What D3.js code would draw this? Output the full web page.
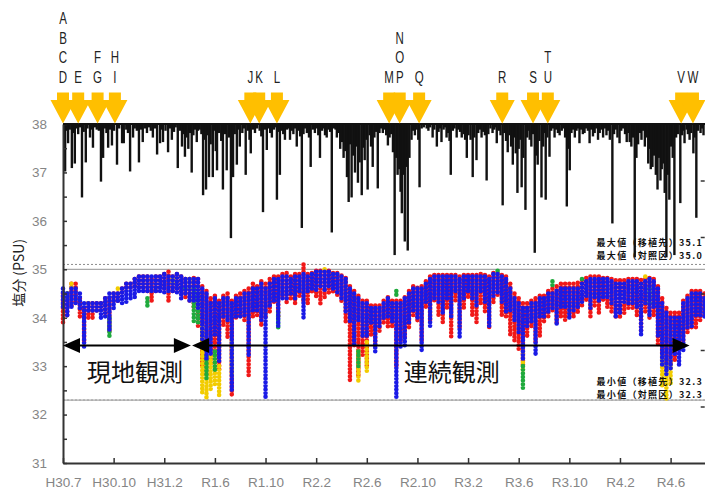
<!DOCTYPE html>
<html>
<head>
<meta charset="utf-8">
<script src="https://cdn.jsdelivr.net/npm/d3@7"></script>
<style>
  body { margin: 0; background: #fff; }
  svg { display: block; }
</style>
</head>
<body>
<svg id="chart" width="705" height="491"></svg>
<script>
// ---- time frame and axis labels ----
const startDate = "2018-07-01";
const endDate = "2022-08-31";
const tickDates = ["2018-07-01","2018-10-29","2019-02-26","2019-06-26","2019-10-24","2020-02-21",
  "2020-06-20","2020-10-18","2021-02-15","2021-06-15","2021-10-13","2022-02-10","2022-06-10"];
const tickLabels = ["H30.7","H30.10","H31.2","R1.6","R1.10","R2.2","R2.6","R2.10","R3.2","R3.6","R3.10","R4.2","R4.6"];
const salinityTicks = [31, 32, 33, 34, 35, 36, 37, 38];
const salinityMinorTicks = [31.5, 32.5, 33.5, 34.5, 35.5, 36.5, 37.5];
const rainTicks = [50, 100, 150, 200, 250];

// ---- survey sites (letters stacked over one arrow share a date) ----
const siteGroups = ["ABCD","E","FG","HI","J","K","L","M","NOP","Q","R","S","TU","V","W"];
const siteDates = ["2018-07-01","2018-08-06","2018-09-21","2018-11-01","2019-09-18","2019-10-09","2019-11-20",
  "2020-08-12","2020-09-06","2020-10-22","2021-05-07","2021-07-19","2021-08-23","2022-07-05","2022-08-02"];

// ---- observation periods ----
const periodNames = ["現地観測", "連続観測"];
const periodStarts = ["2018-07-01", "2019-05-03"];
const periodEnds = ["2019-04-30", "2022-07-25"];

// ---- max / min reference values ----
const extremeLabels = ["最大値（移植先）", "最大値（対照区）", "最小値（移植先）", "最小値（対照区）"];
const extremeValues = [35.1, 35.0, 32.3, 32.3];

// ---- daily rainfall, mm: [days since 2018-07-01, mm] ----
const rainfall = [[5,42],[9,6],[12,17],[16,5],[21,39],[25,8],[28,35],[32,4],[36,9],[40,3],[45,65],[49,7],[54,34],[58,4],[64,12],[67,5],[71,21],[76,3],[80,5],[85,6],[90,51],[95,30],[100,4],[103,8],[107,21],[111,5],[116,19],[121,6],[128,36],[133,4],[140,17],[144,17],[150,5],[154,8],[159,42],[166,12],[170,4],[175,6],[180,34],[185,5],[189,16],[194,4],[199,8],[204,3],[208,6],[213,12],[218,4],[223,27],[230,17],[233,5],[237,16],[243,6],[249,25],[254,4],[258,14],[263,7],[267,3],[272,39],[277,6],[282,20],[286,9],[289,29],[293,12],[297,22],[301,8],[305,43],[309,10],[313,5],[317,16],[320,6],[324,5],[328,9],[332,63],[336,14],[339,58],[343,10],[346,47],[350,18],[355,47],[359,6],[362,24],[365,41],[370,8],[375,15],[379,58],[384,9],[388,41],[393,12],[398,101],[403,47],[407,9],[412,36],[416,5],[419,20],[425,8],[429,4],[433,45],[438,6],[442,14],[445,26],[450,5],[455,8],[460,4],[466,6],[470,11],[474,78],[479,5],[483,23],[488,4],[491,8],[495,12],[500,5],[503,3],[507,67],[511,7],[514,45],[519,6],[522,9],[526,14],[531,5],[534,4],[538,14],[542,6],[546,9],[550,4],[554,20],[558,6],[562,11],[566,92],[570,9],[574,4],[578,8],[583,12],[587,38],[592,5],[597,8],[602,4],[605,10],[609,30],[614,6],[618,4],[621,10],[625,12],[629,5],[633,7],[637,96],[642,4],[646,5],[649,12],[654,8],[657,22],[661,16],[665,30],[669,24],[673,47],[677,69],[680,18],[684,65],[688,28],[692,43],[695,20],[699,52],[703,34],[708,63],[712,21],[715,32],[719,14],[722,58],[727,10],[730,20],[734,38],[738,12],[742,7],[746,57],[750,8],[754,4],[758,8],[763,5],[766,10],[770,19],[774,12],[778,9],[782,25],[786,116],[790,30],[793,45],[797,40],[800,60],[803,79],[806,45],[810,104],[813,38],[817,112],[821,30],[826,14],[830,6],[834,10],[838,5],[842,14],[845,56],[850,4],[855,3],[862,4],[866,6],[870,3],[876,12],[880,5],[886,20],[890,7],[894,4],[897,16],[902,5],[905,3],[909,12],[913,8],[916,15],[919,45],[924,6],[928,4],[933,12],[937,5],[941,7],[945,12],[950,9],[953,14],[957,30],[961,10],[966,14],[971,47],[975,12],[980,32],[984,8],[988,5],[992,12],[996,7],[1000,10],[1004,50],[1008,9],[1013,4],[1018,8],[1022,5],[1025,3],[1028,17],[1033,6],[1037,10],[1042,72],[1046,8],[1050,15],[1054,25],[1058,10],[1062,20],[1066,36],[1070,12],[1073,26],[1077,61],[1080,22],[1084,14],[1087,56],[1091,30],[1096,76],[1100,12],[1103,6],[1106,14],[1110,20],[1114,9],[1118,114],[1121,28],[1125,36],[1129,15],[1134,65],[1138,20],[1141,8],[1144,67],[1148,12],[1153,29],[1157,6],[1161,4],[1165,12],[1169,5],[1173,8],[1177,10],[1182,6],[1186,4],[1190,12],[1194,73],[1197,22],[1201,41],[1205,8],[1209,5],[1213,12],[1217,6],[1220,4],[1224,17],[1228,5],[1232,9],[1236,8],[1240,4],[1244,6],[1248,17],[1252,5],[1256,11],[1260,8],[1264,4],[1268,14],[1272,8],[1276,5],[1280,12],[1284,4],[1288,10],[1292,6],[1296,14],[1302,88],[1306,9],[1310,5],[1314,12],[1319,17],[1323,6],[1327,4],[1332,9],[1336,16],[1340,8],[1343,16],[1347,20],[1351,12],[1355,118],[1359,30],[1363,18],[1367,8],[1371,14],[1375,6],[1379,20],[1383,12],[1387,35],[1390,22],[1393,40],[1397,38],[1401,28],[1405,45],[1409,58],[1412,30],[1416,50],[1419,40],[1423,35],[1426,61],[1430,118],[1433,45],[1437,67],[1441,20],[1445,30],[1449,116],[1453,12],[1457,9],[1463,70],[1467,10],[1470,6],[1473,17],[1478,5],[1481,9],[1485,14],[1489,8],[1494,26],[1497,12],[1501,83],[1505,6],[1511,8],[1515,4],[1518,10]];

// ---- salinity (PSU), 10-day min/max per station: days since 2018-07-01 ----
const obsDays = [0,10,20,30,40,50,60,70,80,90,100,110,120,130,140,150,160,170,180,190,200,210,220,230,240,250,260,270,280,290,300,
  310,320,330,340,350,360,370,380,390,400,410,420,430,440,450,460,470,480,490,500,510,520,530,540,550,560,570,580,590,600,
  610,620,630,640,650,660,670,680,690,700,710,720,730,740,750,760,770,780,790,800,810,820,830,840,850,860,870,880,890,900,
  910,920,930,940,950,960,970,980,990,1000,1010,1020,1030,1040,1050,1060,1070,1080,1090,1100,1110,1120,1130,1140,1150,1160,
  1170,1180,1190,1200,1210,1220,1230,1240,1250,1260,1270,1280,1290,1300,1310,1320,1330,1340,1350,1360,1370,1380,1390,1400,
  1410,1420,1430,1440,1450,1460,1470,1480,1490,1500,1510,1520];

const blueHi = [34.6,34.5,34.6,34.6,34.5,34.3,34.3,34.3,34.3,34.3,34.4,34.5,34.5,34.5,34.6,34.7,34.7,34.8,34.85,34.85,34.85,34.85,34.85,34.85,34.9,34.85,34.85,34.9,34.85,34.8,34.8,
  34.8,34.8,34.6,34.5,34.3,34.4,34.3,34.4,34.4,34.3,34.4,34.4,34.5,34.5,34.6,34.6,34.7,34.6,34.7,34.8,34.8,34.85,34.85,34.8,34.85,34.85,34.9,34.85,34.9,34.95,
  34.95,34.95,34.95,34.9,34.9,34.85,34.8,34.6,34.5,34.4,34.3,34.3,34.2,34.2,34.2,34.3,34.4,34.3,34.3,34.3,34.4,34.5,34.6,34.6,34.6,34.7,34.8,34.85,34.85,34.85,
  34.85,34.85,34.85,34.8,34.85,34.85,34.85,34.85,34.85,34.85,34.8,34.9,34.9,34.85,34.8,34.6,34.4,34.3,34.2,34.2,34.3,34.3,34.4,34.4,34.5,34.5,
  34.55,34.6,34.6,34.6,34.6,34.6,34.7,34.75,34.8,34.8,34.8,34.8,34.8,34.75,34.7,34.7,34.7,34.75,34.75,34.75,34.7,34.75,34.8,34.75,
  34.6,34.3,34.1,34.0,34.0,34.0,34.3,34.4,34.5,34.5,34.5,34.4];
const blueLo = [34.2,34.0,34.2,34.3,34.2,33.4,34.1,34.1,34.1,34.0,34.0,33.7,34.2,34.3,34.3,34.3,34.4,34.4,34.5,34.5,34.5,34.5,34.55,34.5,34.5,34.55,34.5,34.5,34.4,34.5,34.3,
  34.3,34.2,33.5,33.1,33.2,33.6,33.1,34.0,33.9,32.5,34.0,34.0,34.0,33.2,34.1,34.1,33.9,32.3,34.2,34.3,33.8,34.4,34.4,34.45,34.4,34.5,34.0,34.5,34.6,34.55,
  34.6,34.55,34.6,34.55,34.5,34.4,34.1,33.9,33.4,33.9,33.6,33.6,33.9,33.3,33.8,34.0,34.0,33.9,32.35,33.4,33.4,33.9,34.1,34.0,33.3,34.3,33.8,34.4,34.3,34.1,
  34.4,34.0,34.5,33.6,34.4,34.5,34.4,34.2,34.5,34.3,33.8,34.4,34.5,34.3,34.1,34.1,33.9,33.7,33.1,33.8,33.9,33.2,34.0,34.0,34.1,34.2,
  33.85,34.2,34.2,34.0,34.1,34.2,34.3,34.4,34.2,34.4,34.3,34.4,34.4,34.3,34.0,34.1,34.3,34.3,34.3,34.2,33.6,34.3,34.0,34.2,
  33.6,33.0,32.8,32.9,33.2,33.0,33.3,33.8,33.8,34.0,34.0,34.0];

const redHi = [34.5,34.5,34.7,34.7,34.4,34.2,34.3,34.3,34.3,34.3,34.4,34.4,34.5,34.5,34.6,34.7,34.7,34.8,34.85,34.85,34.85,34.8,34.85,34.85,34.9,34.95,34.85,34.9,34.85,34.8,34.8,
  34.82,34.8,34.65,34.55,34.4,34.45,34.35,34.45,34.5,34.35,34.45,34.5,34.55,34.6,34.7,34.65,34.75,34.7,34.8,34.85,34.85,34.9,34.92,34.85,34.9,34.9,35.1,34.9,34.92,34.97,
  34.97,34.95,34.97,34.92,34.92,34.87,34.82,34.65,34.55,34.45,34.35,34.35,34.25,34.25,34.25,34.35,34.42,34.35,34.35,34.35,34.42,34.55,34.65,34.62,34.65,34.75,34.85,34.88,34.88,34.88,
  34.88,34.88,34.88,34.85,34.88,34.88,34.88,34.88,34.9,34.88,34.85,34.92,34.92,34.88,34.85,34.7,34.5,34.4,34.3,34.3,34.35,34.4,34.45,34.45,34.55,34.6,
  34.65,34.7,34.7,34.7,34.7,34.72,34.78,34.82,34.85,34.85,34.85,34.82,34.82,34.8,34.77,34.77,34.77,34.8,34.8,34.8,34.78,34.8,34.82,34.8,
  34.65,34.4,34.2,34.1,34.1,34.1,34.35,34.45,34.55,34.55,34.55,34.5];
const redLo = [33.9,34.0,34.2,34.3,34.0,33.5,34.0,34.0,34.1,34.2,34.1,33.7,34.3,34.3,34.5,34.6,34.6,34.6,34.6,34.6,34.5,34.3,34.5,34.6,34.6,34.3,34.5,34.6,34.5,34.4,34.3,
  34.2,33.8,33.0,32.8,33.0,33.3,32.9,33.8,33.6,32.4,34.0,34.0,33.9,32.8,34.0,34.0,33.8,34.0,34.1,34.3,34.0,34.4,34.3,34.4,34.3,34.4,34.3,34.3,34.5,34.4,
  34.3,34.4,34.5,34.5,34.4,34.3,33.9,32.7,33.4,32.8,33.2,33.0,33.6,33.4,33.7,33.9,33.8,33.8,33.0,33.5,33.6,33.8,34.0,33.9,33.5,34.2,33.9,34.3,34.0,33.9,
  34.2,33.6,34.3,33.8,34.2,34.4,34.0,33.9,34.3,34.1,33.8,34.3,34.4,34.0,34.0,33.6,33.5,33.3,33.0,33.6,33.8,33.5,33.6,33.9,34.0,34.1,
  33.9,34.0,33.9,34.0,34.0,34.1,34.2,34.3,34.0,34.2,34.1,34.3,34.2,34.1,34.0,34.0,34.1,34.2,34.2,34.0,33.7,34.1,34.0,34.0,
  33.4,33.1,32.9,33.0,33.1,33.4,33.5,33.7,33.8,33.8,33.9,34.0];

// sparse stations: [days since 2018-07-01, min, max]
const yellowObs = [[20,34.6,34.7],[60,34.3,34.3],[130,34.6,34.6],[260,34.7,34.8],[300,34.7,34.8],
  [330,32.4,33.8],[340,32.3,33.4],[350,32.5,33.2],[360,32.6,33.3],[370,32.4,33.0],[400,32.8,33.5],
  [620,34.95,35.0],[700,32.7,33.3],[720,32.9,33.5],[1030,34.85,34.9],[1090,32.9,33.3],[1380,34.8,34.85],
  [1420,32.6,33.2],[1430,32.3,33.0],[1440,32.6,33.1]];
const greenObs = [[10,34.4,34.5],[110,33.6,34.0],[200,34.2,34.4],[290,34.6,34.6],[310,33.9,34.6],[320,33.9,34.5],
  [340,32.7,33.2],[360,32.9,33.3],[510,33.8,34.1],[700,33.0,33.3],[790,34.45,34.55],[1030,34.9,34.97],
  [1090,32.5,33.0],[1160,34.65,34.75],[1230,34.75,34.8],[1390,34.3,34.6]];

// ---- scales ----
const parseDate = d3.utcParse("%Y-%m-%d");
const t0 = parseDate(startDate);
const dayToDate = d => d3.utcDay.offset(t0, d);
const plot = { left: 63, right: 705.2, top: 124, bottom: 463 };
const x = d3.scaleUtc().domain([t0, parseDate(endDate)]).range([plot.left, plot.right]);
const y = d3.scaleLinear().domain([31, 38]).range([plot.bottom, plot.top]);
const yRain = d3.scaleLinear().domain([0, 300]).range([plot.top, plot.bottom]);

const svg = d3.select("#chart");
const tickFont = "'Liberation Sans', Arial, sans-serif";
const jpFont = "'Noto Sans CJK JP', 'Noto Sans', sans-serif";

// ---- max / min reference lines (dotted for 移植先, solid for 対照区) ----
const refLines = svg.append("g");
refLines.selectAll("line").data(extremeValues).join("line")
  .attr("x1", plot.left).attr("x2", plot.right)
  .attr("y1", d => y(d)).attr("y2", d => y(d))
  .attr("stroke", (d, i) => i % 2 === 0 ? "#8c8c8c" : "#a8a8a8")
  .attr("stroke-width", (d, i) => i % 2 === 0 ? 1 : 1.3)
  .attr("stroke-dasharray", (d, i) => i % 2 === 0 ? "2 2" : null);

// ---- rainfall bars hanging from the top ----
svg.append("g").selectAll("rect").data(rainfall).join("rect")
  .attr("x", d => x(dayToDate(d[0])) - 1.2)
  .attr("width", 2.4)
  .attr("y", yRain(0))
  .attr("height", d => yRain(d[1]) - yRain(0))
  .attr("fill", "#111");

// ---- salinity: each record is a column of dots from min to max ----
const series = [
  { color: "#f01818", data: obsDays.map((d, i) => [d, redLo[i], redHi[i]]) },
  { color: "#f2cc00", data: yellowObs },
  { color: "#1faa3c", data: greenObs },
  { color: "#1a1ae6", data: obsDays.map((d, i) => [d, blueLo[i], blueHi[i]]) }
];
const dots = svg.append("g");
series.forEach(s => {
  dots.append("g").selectAll("path").data(s.data).join("path")
    .attr("d", r => {
      const xx = x(dayToDate(r[0]));
      const y1 = y(r[2]);
      const y2 = Math.max(y(r[1]), y1 + 0.01);
      return `M${xx},${y1}V${y2}`;
    })
    .attr("fill", "none")
    .attr("stroke", s.color)
    .attr("stroke-width", 4.6)
    .attr("stroke-linecap", "round")
    .attr("stroke-dasharray", "0 3.6");
});

// ---- axes ----
const yAxis = svg.append("g").attr("transform", `translate(${plot.left},0)`)
  .call(d3.axisLeft(y).tickValues(salinityTicks).tickFormat(d3.format("d"))
    .tickSizeInner(-4).tickSizeOuter(0).tickPadding(16));
svg.append("g").attr("transform", `translate(${plot.left},0)`)
  .call(d3.axisLeft(y).tickValues(salinityMinorTicks).tickFormat("")
    .tickSizeInner(-4).tickSizeOuter(0))
  .call(g => g.select(".domain").remove());
const xAxis = svg.append("g").attr("transform", `translate(0,${plot.bottom})`)
  .call(d3.axisBottom(x).tickValues(tickDates.map(parseDate)).tickFormat((d, i) => tickLabels[i])
    .tickSizeInner(-5).tickSizeOuter(0).tickPadding(14));
svg.append("g").attr("transform", `translate(${plot.right - 0.5},0)`)
  .call(d3.axisRight(yRain).tickValues(rainTicks).tickFormat("").tickSizeInner(-4).tickSizeOuter(0))
  .call(g => g.select(".domain").remove());

[yAxis, xAxis].forEach(a => {
  a.select(".domain").attr("stroke", "#333").attr("stroke-width", 2);
  a.selectAll(".tick text").attr("fill", "#858585").style("font-family", tickFont).style("font-size", "13.5px");
});
svg.selectAll(".tick line").attr("stroke", "#333").attr("stroke-width", 1.5);

// top frame
svg.append("line")
  .attr("x1", plot.left).attr("x2", plot.right)
  .attr("y1", plot.top).attr("y2", plot.top)
  .attr("stroke", "#111").attr("stroke-width", 2);

// y-axis title
svg.append("text")
  .attr("transform", `translate(24,${(y(34.2) + y(35.65)) / 2}) rotate(-90)`)
  .attr("text-anchor", "middle")
  .style("font-family", jpFont).style("font-size", "14px").attr("fill", "#222")
  .text("塩分 (PSU)");

// ---- max / min labels ----
const labelY = [243, 256, 382, 395];
svg.append("g").selectAll("text").data(extremeValues).join("text")
  .attr("x", 703).attr("y", (d, i) => labelY[i]).attr("dy", "0.35em")
  .attr("text-anchor", "end")
  .style("font-family", jpFont).style("font-size", "9px").style("font-weight", "bold")
  .style("letter-spacing", "1.3px")
  .attr("fill", "#111")
  .text((d, i) => `${extremeLabels[i]}${d.toFixed(1)}`);

// ---- observation period arrows ----
const arrowY = 345.5;
const periods = periodNames.map((name, i) => ({
  name, x1: x(parseDate(periodStarts[i])), x2: x(parseDate(periodEnds[i]))
}));
const pg = svg.append("g");
periods.forEach(p => {
  pg.append("line").attr("x1", p.x1 + 8).attr("x2", p.x2 - 8)
    .attr("y1", arrowY).attr("y2", arrowY).attr("stroke", "#000").attr("stroke-width", 2);
  pg.append("path").attr("fill", "#000")
    .attr("d", `M${p.x1},${arrowY}L${p.x1 + 17},${arrowY - 7.5}L${p.x1 + 17},${arrowY + 7.5}Z`);
  pg.append("path").attr("fill", "#000")
    .attr("d", `M${p.x2},${arrowY}L${p.x2 - 17},${arrowY - 7.5}L${p.x2 - 17},${arrowY + 7.5}Z`);
});
pg.selectAll("text").data(periods).join("text")
  .attr("x", (p, i) => (p.x1 + p.x2) / 2 + (i === 0 ? 8 : 11))
  .attr("y", 381)
  .attr("text-anchor", "middle")
  .style("font-family", jpFont).style("font-size", "24px").attr("fill", "#111")
  .text(p => p.name);

// ---- survey site markers ----
const sites = siteGroups.map((g, i) => ({ letters: g.split(""), cx: x(parseDate(siteDates[i])) }));
const sg = svg.append("g");
sg.selectAll("path").data(sites).join("path")
  .attr("fill", "#ffbf00")
  .attr("d", s => {
    const c = s.cx;
    return `M${c - 6},92.5L${c + 6},92.5L${c + 6},100L${c + 12.5},100L${c},123.5L${c - 12.5},100L${c - 6},100Z`;
  });
sites.forEach(s => {
  const n = s.letters.length;
  s.letters.forEach((ch, j) => {
    const row = n - 1 - j;
    sg.append("text")
      .attr("transform", `translate(${s.cx},${82.5 - row * 19.4}) scale(0.72,1)`)
      .attr("text-anchor", "middle")
      .style("font-family", tickFont).style("font-size", "16px").attr("fill", "#222")
      .text(ch);
  });
});
</script>
</body>
</html>
